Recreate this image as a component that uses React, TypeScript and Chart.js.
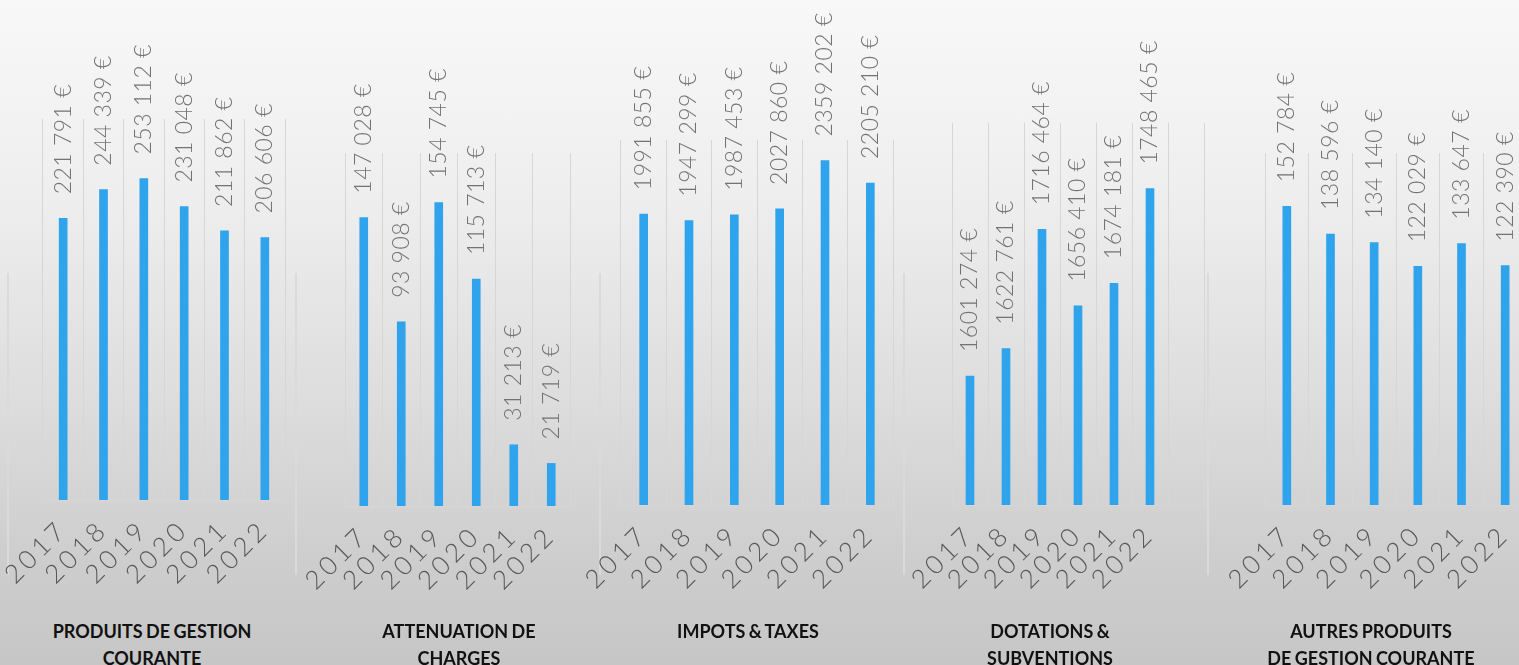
import React, { useEffect, useRef } from "react";
import { Chart, registerables } from "chart.js";

Chart.register(...registerables);

// ---------- data ----------
const years = ["2017", "2018", "2019", "2020", "2021", "2022"];
const produitsGestion = [221791, 244339, 253112, 231048, 211862, 206606];
const attenuationCharges = [147028, 93908, 154745, 115713, 31213, 21719];
const impotsTaxes = [1991855, 1947299, 1987453, 2027860, 2359202, 2205210];
const dotationsSubventions = [1601274, 1622761, 1716464, 1656410, 1674181, 1748465];
const autresProduits = [152784, 138596, 134140, 122029, 133647, 122390];

const axisMin = [0, 0, 0, 1500000, 0];
const axisMax = [300000, 180000, 2500000, 1800000, 180000];

const titles: string[][] = [
  ["PRODUITS DE GESTION", "COURANTE"],
  ["ATTENUATION DE", "CHARGES"],
  ["IMPOTS & TAXES"],
  ["DOTATIONS &", "SUBVENTIONS"],
  ["AUTRES PRODUITS", "DE GESTION COURANTE"],
];

const seriesList = [produitsGestion, attenuationCharges, impotsTaxes, dotationsSubventions, autresProduits];
// the 4th chart has an extra empty column at its right
const extraColumns = [0, 0, 0, 1, 0];

// ---------- layout / style ----------
const LAYOUT = [
  { left: 43, right: 285, top: 119, bottom: 500, titleX: 152 },
  { left: 345, right: 570, top: 153, bottom: 506, titleX: 459 },
  { left: 621, right: 893, top: 140, bottom: 505, titleX: 748 },
  { left: 952, right: 1204, top: 123, bottom: 505, titleX: 1050 },
  { left: 1265, right: 1527, top: 153, bottom: 505, titleX: 1371 },
];
const FRAME_X = [7, 295, 599, 903, 1207];
const PADL = 80;
const PADR = 40;
const AXIS_H = 100;
const GRID = "#d6d6d6";
const BAR = "#2fa3eb";
const FONT = "Lato, 'Open Sans', 'DejaVu Sans', sans-serif";

const fmt = (v: number) => {
  const th = Math.floor(v / 1000);
  const r = String(v % 1000).padStart(3, "0");
  return `${th} ${r} €`;
};

const spacing = {
  id: "spacing",
  beforeDraw(chart: any) {
    (chart.ctx as any).letterSpacing = "4px";
  },
};

const valueLabels = {
  id: "valueLabels",
  afterDatasetsDraw(chart: any) {
    const ctx = chart.ctx;
    const meta = chart.getDatasetMeta(0);
    const data = chart.data.datasets[0].data;
    ctx.save();
    (ctx as any).letterSpacing = "0.5px";
    ctx.font = `300 23px ${FONT}`;
    ctx.fillStyle = "#737373";
    ctx.textAlign = "left";
    ctx.textBaseline = "middle";
    meta.data.forEach((el: any, i: number) => {
      const v = data[i];
      if (v == null) return;
      ctx.save();
      ctx.translate(el.x, el.y - 24);
      ctx.rotate(-Math.PI / 2);
      ctx.fillText(fmt(v), 0, 0);
      ctx.restore();
    });
    ctx.restore();
  },
};

function Panel({ idx }: { idx: number }) {
  const ref = useRef<HTMLCanvasElement>(null);
  const p = LAYOUT[idx];
  const width = PADL + (p.right - p.left) + PADR;
  const height = p.bottom + AXIS_H;

  useEffect(() => {
    const labels = [...years, ...Array(extraColumns[idx]).fill("")];
    const values: (number | null)[] = [...seriesList[idx], ...Array(extraColumns[idx]).fill(null)];
    const chart = new Chart(ref.current!, {
      type: "bar",
      data: {
        labels,
        datasets: [
          {
            data: values,
            backgroundColor: BAR,
            borderWidth: 0,
            barThickness: 8,
          },
        ],
      },
      options: {
        animation: false,
        responsive: false,
        layout: { padding: { left: PADL, right: PADR, top: p.top, bottom: 0 } },
        plugins: {
          legend: { display: false },
          tooltip: { enabled: false },
          title: { display: false },
        },
        scales: {
          x: {
            grid: { color: GRID, lineWidth: 1, drawTicks: false, offset: true },
            border: { display: true, color: GRID, width: 1 },
            ticks: {
              minRotation: 45,
              maxRotation: 45,
              autoSkip: false,
              color: "#595959",
              padding: 14,
              font: { family: FONT, size: 26, weight: "300" as any },
            },
            afterFit: (s: any) => {
              s.height = AXIS_H;
            },
          },
          y: { display: false, min: axisMin[idx], max: axisMax[idx] },
        },
      },
      plugins: [spacing, valueLabels],
    });
    return () => chart.destroy();
  }, [idx]);

  return (
    <canvas
      ref={ref}
      width={width}
      height={height}
      style={{ position: "absolute", left: p.left - PADL, top: 0, width, height }}
    />
  );
}

export default function App() {
  return (
    <div
      style={{
        position: "fixed",
        left: 0,
        top: 0,
        width: 1519,
        height: 665,
        overflow: "hidden",
        background: "linear-gradient(180deg, #f8f8f8 0%, #eeeeee 30%, #dddddd 60%, #cdcdcd 85%, #c6c6c6 100%)",
      }}
    >
      {FRAME_X.map((x) => (
        <div
          key={x}
          style={{ position: "absolute", left: x, top: 273, width: 2, height: 302, background: "#dadada" }}
        />
      ))}
      {LAYOUT.map((_, i) => (
        <Panel key={i} idx={i} />
      ))}
      {titles.map((lines, i) =>
        lines.map((t, j) => (
          <div
            key={`${i}-${j}`}
            style={{
              position: "absolute",
              left: LAYOUT[i].titleX - 150,
              width: 300,
              top: 622 + j * 27,
              textAlign: "center",
              fontFamily: FONT,
              fontWeight: 700,
              fontSize: 18,
              lineHeight: "18px",
              color: "#111",
              wordSpacing: -1,
              whiteSpace: "nowrap",
            }}
          >
            {t}
          </div>
        ))
      )}
    </div>
  );
}
